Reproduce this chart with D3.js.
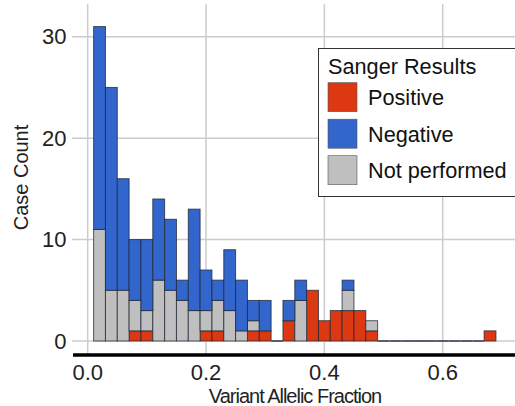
<!DOCTYPE html>
<html>
<head>
<meta charset="utf-8">
<script src="https://cdn.jsdelivr.net/npm/d3@7"></script>
<style>
  body { margin: 0; background: #fff; }
  svg { font-family: "Liberation Sans", Arial, sans-serif; }
</style>
</head>
<body>
<div id="wrapper"></div>
<script>
// bins of width 0.02 starting at 0.01
const binStart = 0.01
const binWidth = 0.02
const positive     = [0,0,0,1,1,0,0,0,0,1,1,0,0,1,1,0,2,0,5,2,3,3,3,1,0,0,0,0,0,0,0,0,0,1]
const notPerformed = [11,5,5,3,2,6,5,4,3,2,3,3,1,1,0,0,0,4,0,0,0,2,0,1,0,0,0,0,0,0,0,0,0,0]
const negative     = [20,20,11,6,7,8,7,2,10,4,2,6,5,2,3,0,2,2,0,0,0,1,0,0,0,0,0,0,0,0,0,0,0,0]

const seriesKeys = ["positive", "notPerformed", "negative"]
const seriesNames = ["Positive", "Negative", "Not performed"]
const xTicks = [0, 0.2, 0.4, 0.6]
const yTicks = [0, 10, 20, 30]

const colors = { positive: "#dc3912", negative: "#3366cc", notPerformed: "#bfbfbf" }
const legendColors = ["#dc3912", "#3366cc", "#bfbfbf"]

function drawChart() {
  const dims = { width: 515, height: 406 }

  const dataset = positive.map((p, i) => ({
    x0: binStart + i * binWidth,
    x1: binStart + (i + 1) * binWidth,
    positive: p,
    notPerformed: notPerformed[i],
    negative: negative[i],
  }))

  const svg = d3.select("#wrapper").append("svg")
    .attr("width", dims.width)
    .attr("height", dims.height)

  //scales
  const xScale = d3.scaleLinear().domain([0, 0.6]).range([87.7, 442.7])
  const yScale = d3.scaleLinear().domain([0, 30]).range([341, 36.7])

  //gridlines
  svg.append("g").selectAll("line").data(xTicks).join("line")
    .attr("x1", d => xScale(d)).attr("x2", d => xScale(d))
    .attr("y1", 4).attr("y2", 355)
    .attr("stroke", "#cccccc").attr("stroke-width", 1.5)

  svg.append("g").selectAll("line").data(yTicks).join("line")
    .attr("x1", 72).attr("x2", dims.width)
    .attr("y1", d => yScale(d)).attr("y2", d => yScale(d))
    .attr("stroke", "#cccccc").attr("stroke-width", 1.5)

  //stacked bars
  const stacked = d3.stack().keys(seriesKeys)(dataset)

  svg.append("g").selectAll("g").data(stacked).join("g")
    .attr("fill", d => colors[d.key])
    .selectAll("rect").data(d => d.filter(s => s[1] > s[0])).join("rect")
      .attr("x", d => xScale(d.data.x0))
      .attr("width", d => xScale(d.data.x1) - xScale(d.data.x0))
      .attr("y", d => yScale(d[1]))
      .attr("height", d => yScale(d[0]) - yScale(d[1]))
      .attr("stroke", "#1f2633")
      .attr("stroke-opacity", 0.75)
      .attr("stroke-width", 1)

  //empty bins get a baseline
  svg.append("g").selectAll("line")
    .data(dataset.filter(d => d.positive + d.notPerformed + d.negative === 0))
    .join("line")
      .attr("x1", d => xScale(d.x0)).attr("x2", d => xScale(d.x1))
      .attr("y1", yScale(0)).attr("y2", yScale(0))
      .attr("stroke", "#5a5e6e").attr("stroke-width", 2)

  //x axis line
  svg.append("line")
    .attr("x1", 73).attr("x2", dims.width)
    .attr("y1", 355).attr("y2", 355)
    .attr("stroke", "#000").attr("stroke-width", 3.5)

  //tick labels
  svg.append("g").selectAll("text").data(xTicks).join("text")
    .attr("x", d => xScale(d)).attr("y", 380)
    .attr("text-anchor", "middle")
    .style("font-size", "22px").attr("fill", "#222")
    .text(d => d.toFixed(1))

  svg.append("g").selectAll("text").data(yTicks).join("text")
    .attr("x", 66.5).attr("y", d => yScale(d) + 7.5)
    .attr("text-anchor", "end")
    .style("font-size", "22px").attr("fill", "#222")
    .text(d => d)

  //axis titles
  svg.append("text")
    .attr("x", 295).attr("y", 403)
    .attr("text-anchor", "middle")
    .style("font-size", "20px").style("letter-spacing", "-1px").attr("fill", "#222")
    .text("Variant Allelic Fraction")

  svg.append("text")
    .attr("transform", "translate(28,177.5) rotate(-90)")
    .attr("text-anchor", "middle")
    .style("font-size", "20px").attr("fill", "#222")
    .text("Case Count")

  //legend
  const legend = svg.append("g")
  legend.append("rect")
    .attr("x", 318.5).attr("y", 48.5)
    .attr("width", 210).attr("height", 148)
    .attr("fill", "#fff").attr("stroke", "#333").attr("stroke-width", 1)

  legend.append("text")
    .attr("x", 328).attr("y", 74)
    .style("font-size", "21.7px").attr("fill", "#111")
    .text("Sanger Results")

  const items = legend.selectAll("g.item").data(seriesNames).join("g")
    .attr("transform", (d, i) => `translate(328,${82.7 + i * 36.5})`)

  items.append("rect")
    .attr("width", 29).attr("height", 29)
    .attr("fill", (d, i) => legendColors[i])
    .attr("stroke", "#555").attr("stroke-width", 0.6)

  items.append("text")
    .attr("x", 40).attr("y", 22.5)
    .style("font-size", "21.7px").attr("fill", "#111")
    .text(d => d)
}

drawChart()
</script>
</body>
</html>
